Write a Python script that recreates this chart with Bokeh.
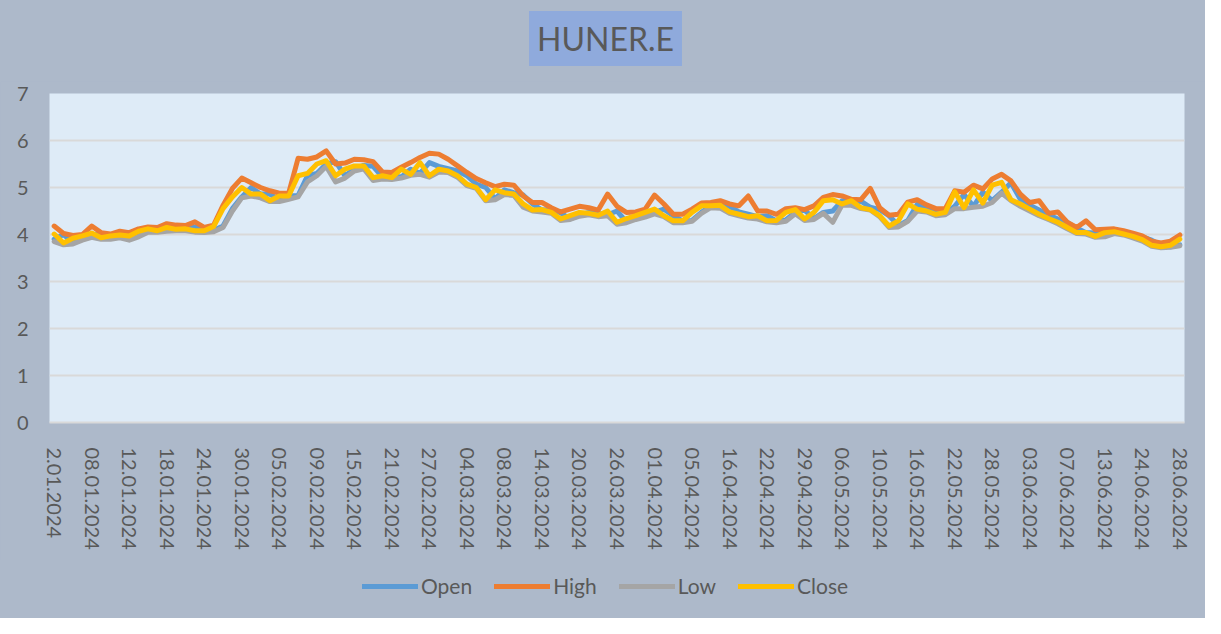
from bokeh.plotting import figure
from bokeh.layouts import column
from bokeh.models import Range1d, FixedTicker, Legend, LegendItem, Label
from bokeh.embed import file_html
from bokeh.resources import INLINE

# ---- data -------------------------------------------------------------
chart_title = "HUNER.E"
tick_labels = ["2.01.2024", "08.01.2024", "12.01.2024", "18.01.2024", "24.01.2024",
               "30.01.2024", "05.02.2024", "09.02.2024", "15.02.2024", "21.02.2024",
               "27.02.2024", "04.03.2024", "08.03.2024", "14.03.2024", "20.03.2024",
               "26.03.2024", "01.04.2024", "05.04.2024", "16.04.2024", "22.04.2024",
               "29.04.2024", "06.05.2024", "10.05.2024", "16.05.2024", "22.05.2024",
               "28.05.2024", "03.06.2024", "07.06.2024", "13.06.2024", "24.06.2024",
               "28.06.2024"]
label_step = 4

open_ = [3.90, 4.00, 3.83, 3.92, 3.98, 4.02, 3.93, 3.97, 3.98, 3.98,
         4.07, 4.12, 4.09, 4.15, 4.11, 4.16, 4.09, 4.09, 4.18, 4.55,
         4.80, 5.00, 4.86, 4.86, 4.73, 4.82, 4.83, 5.25, 5.30, 5.50,
         5.55, 5.25, 5.39, 5.47, 5.45, 5.22, 5.26, 5.22, 5.39, 5.30,
         5.53, 5.45, 5.40, 5.35, 5.25, 5.07, 5.00, 4.76, 4.95, 4.89,
         4.84, 4.65, 4.52, 4.53, 4.46, 4.33, 4.41, 4.47, 4.45, 4.42,
         4.50, 4.27, 4.35, 4.40, 4.47, 4.54, 4.40, 4.29, 4.30, 4.47,
         4.61, 4.61, 4.60, 4.48, 4.43, 4.38, 4.40, 4.29, 4.31, 4.47,
         4.52, 4.34, 4.47, 4.50, 4.72, 4.66, 4.71, 4.58, 4.53, 4.40,
         4.19, 4.30, 4.64, 4.54, 4.50, 4.44, 4.60, 4.85, 4.60, 4.90,
         4.72, 4.90, 5.10, 4.75, 4.62, 4.52, 4.42, 4.33, 4.25, 4.14,
         4.04, 4.03, 3.97, 4.04, 4.05, 4.01, 3.95, 3.88, 3.77, 3.74,
         3.78]

high = [4.18, 4.02, 3.98, 4.00, 4.18, 4.04, 4.01, 4.07, 4.04, 4.12,
        4.16, 4.15, 4.23, 4.20, 4.19, 4.27, 4.15, 4.20, 4.62, 4.98,
        5.20, 5.10, 5.00, 4.93, 4.88, 4.88, 5.62, 5.60, 5.65, 5.78,
        5.50, 5.52, 5.60, 5.59, 5.55, 5.33, 5.32, 5.43, 5.53, 5.64,
        5.73, 5.71, 5.60, 5.46, 5.32, 5.19, 5.10, 5.02, 5.07, 5.05,
        4.82, 4.68, 4.68, 4.57, 4.48, 4.54, 4.60, 4.57, 4.52, 4.86,
        4.60, 4.47, 4.48, 4.54, 4.84, 4.65, 4.43, 4.43, 4.54, 4.67,
        4.68, 4.72, 4.65, 4.61, 4.82, 4.50, 4.50, 4.43, 4.55, 4.57,
        4.53, 4.61, 4.79, 4.85, 4.82, 4.75, 4.74, 4.98, 4.57, 4.41,
        4.43, 4.69, 4.74, 4.63, 4.55, 4.55, 4.93, 4.90, 5.05, 4.97,
        5.18, 5.28, 5.14, 4.86, 4.68, 4.72, 4.45, 4.48, 4.26, 4.15,
        4.29, 4.10, 4.11, 4.12, 4.08, 4.03, 3.97, 3.86, 3.82, 3.86,
        3.99]

low = [3.85, 3.78, 3.80, 3.88, 3.94, 3.90, 3.90, 3.93, 3.88, 3.95,
       4.05, 4.05, 4.07, 4.08, 4.08, 4.05, 4.04, 4.06, 4.15, 4.50,
       4.78, 4.82, 4.78, 4.70, 4.70, 4.75, 4.80, 5.12, 5.25, 5.45,
       5.12, 5.20, 5.35, 5.40, 5.15, 5.18, 5.17, 5.20, 5.26, 5.28,
       5.22, 5.33, 5.32, 5.22, 5.04, 4.98, 4.72, 4.74, 4.85, 4.83,
       4.58, 4.50, 4.48, 4.45, 4.30, 4.32, 4.39, 4.42, 4.38, 4.40,
       4.22, 4.25, 4.32, 4.37, 4.44, 4.38, 4.25, 4.25, 4.28, 4.45,
       4.57, 4.56, 4.45, 4.40, 4.35, 4.33, 4.27, 4.25, 4.28, 4.44,
       4.30, 4.32, 4.45, 4.26, 4.63, 4.62, 4.55, 4.52, 4.38, 4.15,
       4.16, 4.28, 4.50, 4.48, 4.40, 4.42, 4.55, 4.55, 4.58, 4.60,
       4.68, 4.88, 4.72, 4.60, 4.50, 4.40, 4.32, 4.23, 4.12, 4.02,
       4.01, 3.94, 3.95, 4.02, 3.99, 3.93, 3.86, 3.75, 3.72, 3.73,
       3.76]

close = [4.01, 3.82, 3.92, 3.97, 4.03, 3.93, 3.97, 3.99, 3.97, 4.07,
         4.12, 4.08, 4.15, 4.11, 4.12, 4.08, 4.08, 4.17, 4.55, 4.80,
         5.00, 4.86, 4.86, 4.72, 4.82, 4.82, 5.25, 5.30, 5.50, 5.57,
         5.25, 5.39, 5.46, 5.46, 5.21, 5.25, 5.21, 5.39, 5.28, 5.53,
         5.25, 5.39, 5.35, 5.25, 5.07, 5.00, 4.74, 4.95, 4.89, 4.86,
         4.65, 4.52, 4.53, 4.47, 4.33, 4.40, 4.47, 4.45, 4.41, 4.50,
         4.26, 4.34, 4.40, 4.47, 4.54, 4.40, 4.29, 4.29, 4.47, 4.61,
         4.61, 4.62, 4.48, 4.43, 4.38, 4.40, 4.29, 4.30, 4.47, 4.53,
         4.33, 4.47, 4.72, 4.74, 4.65, 4.72, 4.57, 4.53, 4.40, 4.18,
         4.29, 4.65, 4.54, 4.50, 4.43, 4.47, 4.91, 4.57, 4.95, 4.67,
         5.05, 5.11, 4.74, 4.65, 4.54, 4.43, 4.34, 4.26, 4.15, 4.04,
         4.04, 3.96, 4.04, 4.06, 4.01, 3.96, 3.89, 3.77, 3.74, 3.77,
         3.90]

series = [("Open", open_, "#5B9BD5"),
          ("High", high, "#ED7D31"),
          ("Low", low, "#A5A5A5"),
          ("Close", close, "#FFC000")]

# ---- common ------------------------------------------------------------
n = len(close)
x = list(range(n))
FONT = "Lato"
TXT = "#595959"
BG = "#ADB9CA"
W = 1205
BL, BR = 49, 21
LW = 5


def strip(height):
    f = figure(width=W, height=height, output_backend="svg", toolbar_location=None,
               x_range=Range1d(0, 1), y_range=Range1d(0, 1),
               x_axis_type=None, y_axis_type=None,
               min_border_left=BL, min_border_right=BR,
               min_border_top=0, min_border_bottom=0)
    f.border_fill_color = None
    f.background_fill_color = None
    f.outline_line_color = None
    f.grid.grid_line_color = None
    return f


# ---- title strip --------------------------------------------------------
tf = strip(81)
tf.add_layout(Label(x=556, y=43, x_units="screen", y_units="screen", text=chart_title,
                    text_align="center", text_baseline="middle", text_font=FONT,
                    text_font_size="32px", text_color=TXT,
                    background_fill_color="#8FAADC", padding=8))

# ---- main chart ---------------------------------------------------------
p = figure(width=W, height=479, output_backend="svg", toolbar_location=None,
           x_range=Range1d(-0.5, n - 0.5), y_range=Range1d(0, 7),
           min_border_left=BL, min_border_right=BR, min_border_top=12,
           min_border_bottom=138)
p.border_fill_color = BG
p.background_fill_color = "#DEEBF7"
p.outline_line_color = None

p.xgrid.grid_line_color = None
p.ygrid.grid_line_color = "#D9D9D9"
p.ygrid.grid_line_width = 2
p.ygrid.ticker = FixedTicker(ticks=list(range(0, 8)))

p.yaxis.ticker = FixedTicker(ticks=list(range(0, 8)))
p.yaxis.axis_line_color = None
p.yaxis.major_tick_line_color = None
p.yaxis.minor_tick_line_color = None
p.yaxis.major_tick_out = 0
p.yaxis.major_tick_in = 0
p.yaxis.major_label_text_font = FONT
p.yaxis.major_label_text_font_size = "20px"
p.yaxis.major_label_text_color = TXT
p.yaxis.major_label_standoff = 21

ticks = list(range(0, n, label_step))
p.xaxis.ticker = FixedTicker(ticks=ticks)
p.xaxis.major_label_overrides = {t: lab for t, lab in zip(ticks, tick_labels)}
p.xaxis.major_label_orientation = "vertical"
p.xaxis.axis_line_color = "#D9D9D9"
p.xaxis.axis_line_width = 2
p.xaxis.major_tick_line_color = None
p.xaxis.minor_tick_line_color = None
p.xaxis.major_tick_out = 0
p.xaxis.major_tick_in = 0
p.xaxis.major_label_text_font = FONT
p.xaxis.major_label_text_font_size = "20px"
p.xaxis.major_label_text_color = TXT
p.xaxis.major_label_standoff = 25

for name, vals, col in series:
    p.line(x, vals, line_color=col, line_width=LW, line_cap="round", line_join="round")

# ---- legend strip -------------------------------------------------------
lg = strip(58)
items = []
for name, vals, col in series:
    # same series, drawn outside this strip's visible range; used only as legend keys
    r = lg.line(x, vals, line_color=col, line_width=LW, line_cap="round")
    items.append(LegendItem(label=name, renderers=[r]))

legend = Legend(items=items, orientation="horizontal", location=(313, 20),
                background_fill_alpha=0, border_line_color=None,
                label_text_font=FONT, label_text_font_size="21px", label_text_color=TXT,
                glyph_width=56, glyph_height=24, label_standoff=3, spacing=22,
                padding=0, margin=0)
lg.add_layout(legend, "center")

layout = column(tf, p, lg, spacing=0, styles={"background-color": BG})
open("out.html", "w").write(file_html(layout, INLINE))
